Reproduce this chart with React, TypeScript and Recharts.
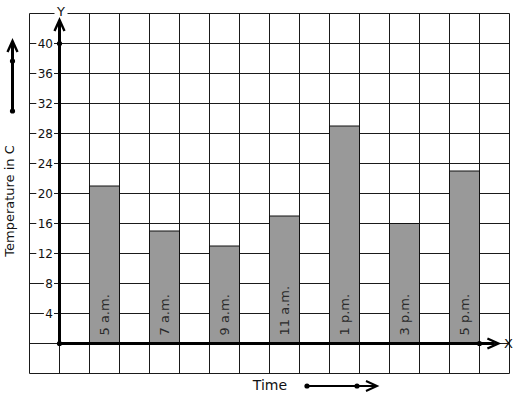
import React from "react";
import { Bar, CartesianGrid, ComposedChart, LabelList, ReferenceDot, ReferenceLine, XAxis, YAxis } from "recharts";

const categories = ["5 a.m.", "7 a.m.", "9 a.m.", "11 a.m.", "1 p.m.", "3 p.m.", "5 p.m."];
const temperatures = [21, 15, 13, 17, 29, 16, 23];
const yTickLabels = [4, 8, 12, 16, 20, 24, 28, 32, 36, 40];

// grid: one column per half hour-slot, one row per 4 degrees
const xGrid = Array.from({ length: 17 }, (_, i) => i - 1);
const yGrid = Array.from({ length: 13 }, (_, i) => i * 4 - 4);

const data = categories.map((label, i) => ({ label, temp: temperatures[i], pos: 1.5 + i * 2 }));

const FONT = "DejaVu Sans, sans-serif";
const INK = "#111";

const tickLabel = (v: number) => (props: any) => {
    const vb = props.viewBox || {};
    const right = vb.x + 23.5;
    const w = String(v).length * 7.6;
    return (
        <g>
            <rect x={right - w - 1.5} y={vb.y - 6} width={w + 2.5} height={12} fill="#fff" />
            <text x={right} y={vb.y} dy="0.36em" textAnchor="end" fontSize={12} fontFamily={FONT} fill={INK}>
                {v}
            </text>
        </g>
    );
};

const BarText = (props: any) => {
    const { x, y, width, height, value } = props;
    const bx = x + width / 2 + 4.5;
    const by = y + height - 8;
    return (
        <text x={bx} y={by} transform={`rotate(-90, ${bx}, ${by})`} fontSize={13} fontFamily={FONT} fill="#2a2a2a">
            {value}
        </text>
    );
};

const Dot = (p: any) => <circle cx={p.cx} cy={p.cy} r={2.6} fill="#000" />;

const YHead = (p: any) => (
    <g>
        <rect x={p.cx - 5} y={p.cy - 11.5} width={13} height={18} fill="#fff" />
        <text x={p.cx + 1.5} y={p.cy - 2.5} dy="0.36em" textAnchor="middle" fontSize={13} fontFamily={FONT} fill={INK}>
            Y
        </text>
        <path d={`M ${p.cx - 5} ${p.cy + 17.5} L ${p.cx} ${p.cy + 6.5} L ${p.cx + 5} ${p.cy + 17.5}`} stroke="#000" strokeWidth={2.4} fill="none" />
    </g>
);

const XHead = (p: any) => (
    <g>
        <path d={`M ${p.cx - 11} ${p.cy - 5} L ${p.cx} ${p.cy} L ${p.cx - 11} ${p.cy + 5}`} stroke="#000" strokeWidth={2.4} fill="none" />
        <text x={p.cx + 10} y={p.cy} dy="0.36em" textAnchor="middle" fontSize={13} fontFamily={FONT} fill={INK}>
            X
        </text>
    </g>
);

export default function App() {
    return (
        <div style={{ position: "absolute", left: 0, top: 0, width: 517, height: 399, background: "#fff", fontFamily: FONT }}>
            <ComposedChart width={517} height={399} data={data} margin={{ top: 13.5, right: 7.5, bottom: 25.5, left: 29.5 }}>
                <XAxis type="number" dataKey="pos" domain={[-1, 15]} ticks={xGrid} interval={0} allowDataOverflow hide />
                <YAxis type="number" domain={[-4, 44]} ticks={yGrid} interval={0} allowDataOverflow hide />
                <CartesianGrid stroke="#1a1a1a" strokeWidth={1} horizontalValues={yGrid} verticalValues={xGrid} />
                <Bar dataKey="temp" barSize={30} fill="#999999" stroke="#111" strokeWidth={1} isAnimationActive={false}>
                    <LabelList dataKey="label" content={BarText} />
                </Bar>
                {yTickLabels.map((v) => (
                    <ReferenceLine key={v} y={v} stroke="none" label={tickLabel(v)} />
                ))}
                <ReferenceLine segment={[{ x: 0, y: 0 }, { x: 14.5, y: 0 }]} stroke="#000" strokeWidth={3} />
                <ReferenceLine segment={[{ x: 0, y: 0 }, { x: 0, y: 42.9 }]} stroke="#000" strokeWidth={3} />
                <ReferenceDot x={0} y={44} shape={YHead} />
                <ReferenceDot x={14.63} y={0} shape={XHead} />
                <ReferenceDot x={0} y={0} shape={Dot} />
                <ReferenceDot x={0} y={40} shape={Dot} />
                <ReferenceDot x={14} y={0} shape={Dot} />
            </ComposedChart>
            <svg width={517} height={399} style={{ position: "absolute", left: 0, top: 0, pointerEvents: "none" }}>
                <text x={14} y={201} transform="rotate(-90, 14, 201)" textAnchor="middle" fontSize={13} fontFamily={FONT} fill={INK}>
                    Temperature in C
                </text>
                <line x1={12.5} y1={111} x2={12.5} y2={42} stroke="#000" strokeWidth={3} />
                <path d="M 7.5 52 L 12.5 41 L 17.5 52" stroke="#000" strokeWidth={2.4} fill="none" />
                <circle cx={12.5} cy={61} r={2.6} fill="#000" />
                <circle cx={12.5} cy={111} r={2.6} fill="#000" />
                <text x={270} y={385} dy="0.36em" textAnchor="middle" fontSize={14} fontFamily={FONT} fill={INK}>
                    Time
                </text>
                <line x1={307} y1={386} x2={375} y2={386} stroke="#000" strokeWidth={2} />
                <path d="M 366 381 L 377 386 L 366 391" stroke="#000" strokeWidth={2} fill="none" />
                <circle cx={307} cy={386} r={2.6} fill="#000" />
                <circle cx={357} cy={386} r={2.6} fill="#000" />
            </svg>
        </div>
    );
}
